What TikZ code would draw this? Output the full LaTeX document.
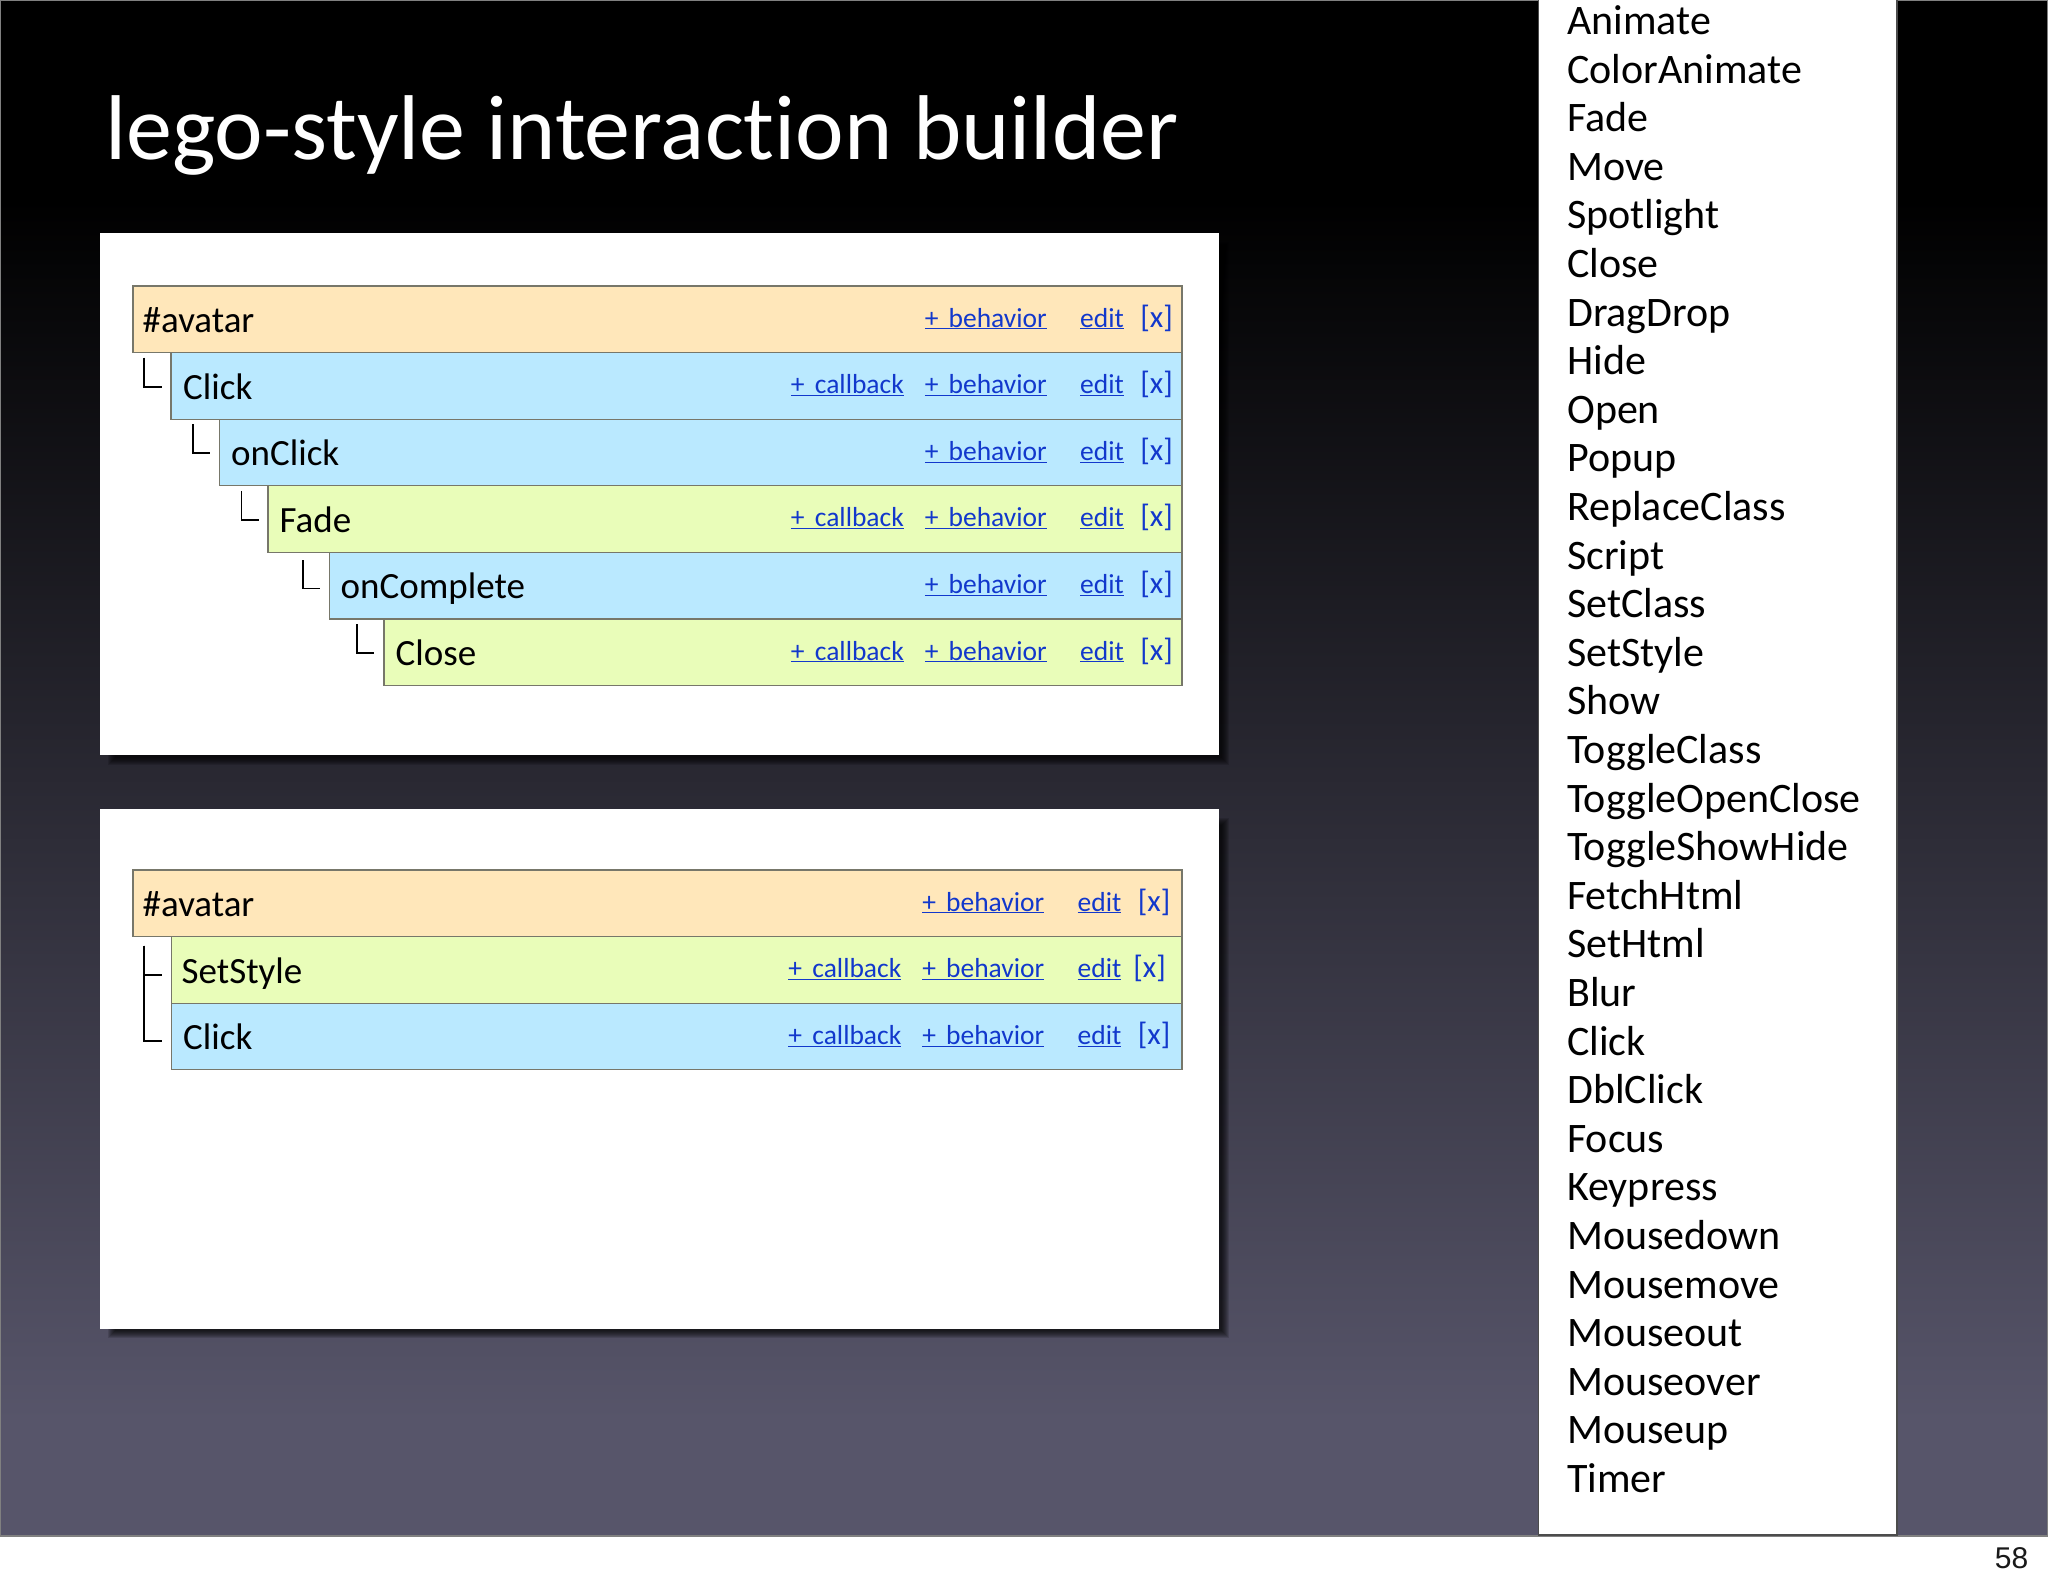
\documentclass[tikz,border=0pt]{standalone}
\usepackage{fontspec}
\setmainfont[Ligatures=CommonOff]{Carlito}
\newfontfamily\pagefont{Liberation Sans}
\usetikzlibrary{calc}
\definecolor{bgtop}{HTML}{000000}
\definecolor{bgbot}{HTML}{57556A}
\definecolor{peach}{HTML}{FFE7BA}
\definecolor{sky}{HTML}{BAE9FF}
\definecolor{lime}{HTML}{E9FDB9}
\definecolor{linkblue}{HTML}{1238CC}
\definecolor{edge}{HTML}{77776A}
\newcommand{\lnk}[1]{\underline{#1}}
\tikzset{
  x=1pt,y=-1pt,
  panel/.style={fill=white,draw=none},
  rowbox/.style={draw=edge,line width=1.2pt,minimum height=66.6pt,inner sep=0pt,anchor=north west,outer sep=0pt},
  label/.style={anchor=base west,inner sep=0pt,font=\fontsize{37}{37}\selectfont,text=black},
  linktxt/.style={anchor=base east,inner sep=0pt,font=\fontsize{27.5}{27.5}\selectfont,text=linkblue},
  closetxt/.style={anchor=base east,inner sep=0pt,font=\fontsize{31}{31}\selectfont,text=linkblue},
  tree/.style={draw=black,line width=1.8pt},
  listitem/.style={anchor=base west,inner sep=0pt,font=\fontsize{42}{42}\selectfont,text=black},
}
\newcommand{\rowlinks}[3]{% name, x shift, [x] shift
  \node[linktxt] (#1-b) at ($(#1.north east)+(-135+#2,41)$) {\lnk{+\hspace{4pt} behavior}};
  \node[linktxt] (#1-e) at ($(#1.north east)+(-58+#2,41)$) {\lnk{edit}};
  \node[closetxt] (#1-x) at ($(#1.north east)+(-9+#2+#3,41)$) {[x]};
}
\newcommand{\cblink}[2]{%
  \node[linktxt] (#1-c) at ($(#1.north east)+(-278+#2,41)$) {\lnk{+\hspace{4pt} callback}};
}
\begin{document}
\begin{tikzpicture}
\useasboundingbox (0,0) rectangle (2048,1587);
\fill[white] (0,0) rectangle (2048,1587);
\fill[bgtop] (0,0) rectangle (2048,200);
\shade[top color=bgtop,bottom color=bgbot,middle color=bgbot!50!bgtop] (0,200) rectangle (2048,1420);
\fill[bgbot] (0,1420) rectangle (2048,1536);
\draw[color=gray,line width=1.5pt] (0.5,0.5) rectangle (2047.5,1536);

\node[anchor=base west,inner sep=0pt,text=white,font=\fontsize{92}{92}\selectfont] (title) at (105,159) {lego-style interaction builder};

% panel shadows
\foreach \i in {0,...,7}{
  \fill[black,opacity=0.13] (108+\i,242+\i) rectangle (1229-\i,765-\i);
  \fill[black,opacity=0.13] (108+\i,818+\i) rectangle (1229-\i,1338-\i);
}
\node[panel,anchor=north west,minimum width=1118.5pt,minimum height=522.5pt,inner sep=0pt] (p1) at (100,232.5) {};
\node[panel,anchor=north west,minimum width=1118.5pt,minimum height=520pt,inner sep=0pt] (p2) at (100,808.5) {};

% first tree
\node[rowbox,fill=peach,minimum width=1049pt] (a) at (133,286) {};
\node[rowbox,fill=sky,minimum width=1011pt] (b) at (171,352.6) {};
\node[rowbox,fill=sky,minimum width=962.5pt] (c) at (219.5,419.2) {};
\node[rowbox,fill=lime,minimum width=914pt] (d) at (268,485.8) {};
\node[rowbox,fill=sky,minimum width=852.5pt] (e) at (329.5,552.4) {};
\node[rowbox,fill=lime,minimum width=798pt] (f) at (384,619) {};

\node[label] (at) at ($(a.north west)+(9.5,46.5)$) {\#avatar};
\node[label] (bt) at ($(b.north west)+(12,46.5)$) {Click};
\node[label] (ct) at ($(c.north west)+(11.5,46.5)$) {onClick};
\node[label] (dt) at ($(d.north west)+(11.5,46.5)$) {Fade};
\node[label] (et) at ($(e.north west)+(11,46.5)$) {onComplete};
\node[label] (ft) at ($(f.north west)+(11.5,46.5)$) {Close};

\rowlinks{a}{0}{0}
\rowlinks{b}{0}{0}\cblink{b}{0}
\rowlinks{c}{0}{0}
\rowlinks{d}{0}{0}\cblink{d}{0}
\rowlinks{e}{0}{0}
\rowlinks{f}{0}{0}\cblink{f}{0}

\draw[tree] ($(a.south west)+(11,5)$) coordinate (t1) |- ($(b.north west)+(-9.5,34)$) coordinate (t2);
\draw[tree] ($(b.south west)+(22,5)$) |- ($(c.north west)+(-9.5,34)$);
\draw[tree] ($(c.south west)+(22,5)$) |- ($(d.north west)+(-9.5,34)$);
\draw[tree] ($(d.south west)+(35,8)$) |- ($(e.north west)+(-9.5,36)$);
\draw[tree] ($(e.south west)+(27.5,5)$) |- ($(f.north west)+(-10,34)$);

% second tree
\node[rowbox,fill=peach,minimum width=1049pt] (g) at (133,870) {};
\node[rowbox,fill=lime,minimum width=1010.5pt] (h) at (171.5,936.6) {};
\node[rowbox,fill=sky,minimum width=1010.5pt] (i) at (171.5,1003.2) {};

\node[label] (gt) at ($(g.north west)+(9.5,46.5)$) {\#avatar};
\node[label] (ht) at ($(h.north west)+(10,46.5)$) {SetStyle};
\node[label] (it) at ($(i.north west)+(11.5,46.5)$) {Click};

\rowlinks{g}{-2.5}{0}
\rowlinks{h}{-2.5}{-4.5}\cblink{h}{-2.5}
\rowlinks{i}{-2.5}{0}\cblink{i}{-2.5}

\draw[tree] ($(g.south west)+(11,9)$) coordinate (u1) |- ($(h.north west)+(-10,38)$) coordinate (u2);
\draw[tree] (u1) |- ($(i.north west)+(-10,38)$) coordinate (u3);

% list panel
\fill[white,draw=gray!60!black,line width=1.2pt] (1538.8,-2) rectangle (1897,1535);
\foreach \t [count=\n from 0] in {Animate,ColorAnimate,Fade,Move,Spotlight,Close,DragDrop,Hide,Open,Popup,ReplaceClass,Script,SetClass,SetStyle,Show,ToggleClass,ToggleOpenClose,ToggleShowHide,FetchHtml,SetHtml,Blur,Click,DblClick,Focus,Keypress,Mousedown,Mousemove,Mouseout,Mouseover,Mouseup,Timer}{
  \node[listitem] (item\n) at (1567,34.5+48.6*\n) {\t};
}
\node[anchor=base east,inner sep=0pt,font=\pagefont\fontsize{30}{30}\selectfont,text=black!90] (pg) at (2028.5,1568) {58};
\end{tikzpicture}
\end{document}
